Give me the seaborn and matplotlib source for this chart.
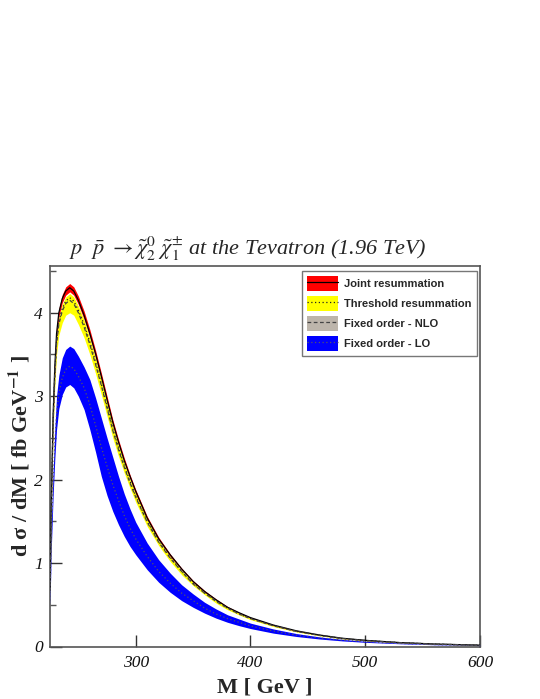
import numpy as np
import pandas as pd
import matplotlib
matplotlib.use("Agg")
import matplotlib.pyplot as plt
import seaborn as sns
from matplotlib.patches import Patch
from matplotlib.lines import Line2D
from matplotlib.legend_handler import HandlerTuple
from matplotlib.ticker import MultipleLocator, FixedLocator

# ---------------- data ----------------
mass = [225.3, 226.5, 228, 229.5, 231, 233, 236, 239, 242.5, 246, 250, 255, 260, 265, 270,
        275, 280, 285, 290, 295, 300, 310, 320, 330, 340, 350, 360, 370, 380, 390, 400,
        420, 440, 460, 480, 500, 530, 560, 600]

joint_up = [0.70, 1.80, 2.80, 3.40, 3.80, 4.05, 4.22, 4.31, 4.35, 4.31, 4.20, 4.02, 3.80, 3.55, 3.28,
            3.00, 2.72, 2.48, 2.26, 2.06, 1.88, 1.56, 1.31, 1.11, 0.94, 0.79, 0.67, 0.57, 0.48, 0.41, 0.35,
            0.26, 0.19, 0.14, 0.10, 0.075, 0.048, 0.030, 0.016]
joint_mid = [0.69, 1.78, 2.77, 3.36, 3.75, 4.00, 4.17, 4.26, 4.30, 4.26, 4.15, 3.97, 3.75, 3.51, 3.24,
             2.96, 2.69, 2.45, 2.23, 2.04, 1.86, 1.54, 1.29, 1.10, 0.93, 0.78, 0.66, 0.56, 0.47, 0.405, 0.346,
             0.257, 0.188, 0.138, 0.099, 0.074, 0.047, 0.030, 0.016]
joint_lo = [0.68, 1.76, 2.73, 3.32, 3.71, 3.95, 4.12, 4.21, 4.25, 4.21, 4.10, 3.92, 3.71, 3.46, 3.20,
            2.93, 2.65, 2.42, 2.21, 2.01, 1.83, 1.52, 1.28, 1.08, 0.92, 0.77, 0.65, 0.56, 0.47, 0.40, 0.342,
            0.254, 0.185, 0.137, 0.098, 0.073, 0.047, 0.029, 0.016]

thr_up = [0.68, 1.75, 2.72, 3.30, 3.69, 3.94, 4.10, 4.19, 4.23, 4.19, 4.08, 3.91, 3.69, 3.45, 3.19,
          2.92, 2.64, 2.41, 2.20, 2.00, 1.83, 1.52, 1.27, 1.08, 0.91, 0.77, 0.65, 0.55, 0.47, 0.40, 0.340,
          0.253, 0.185, 0.136, 0.097, 0.073, 0.047, 0.029, 0.016]
thr_mid = [0.67, 1.73, 2.69, 3.26, 3.65, 3.89, 4.05, 4.14, 4.18, 4.14, 4.03, 3.86, 3.65, 3.41, 3.15,
           2.88, 2.61, 2.38, 2.17, 1.98, 1.80, 1.50, 1.26, 1.07, 0.90, 0.76, 0.64, 0.55, 0.46, 0.39, 0.336,
           0.250, 0.182, 0.134, 0.096, 0.072, 0.046, 0.029, 0.015]
thr_lo = [0.64, 1.66, 2.58, 3.13, 3.50, 3.73, 3.88, 3.97, 4.00, 3.97, 3.86, 3.70, 3.50, 3.27, 3.02,
          2.76, 2.50, 2.28, 2.08, 1.90, 1.73, 1.44, 1.21, 1.02, 0.86, 0.73, 0.62, 0.52, 0.44, 0.38, 0.322,
          0.239, 0.175, 0.129, 0.092, 0.069, 0.044, 0.028, 0.015]

nlo_up = [0.68, 1.74, 2.71, 3.29, 3.68, 3.92, 4.08, 4.17, 4.21, 4.17, 4.07, 3.89, 3.68, 3.44, 3.18,
          2.90, 2.63, 2.40, 2.19, 1.99, 1.82, 1.51, 1.27, 1.07, 0.91, 0.76, 0.65, 0.55, 0.46, 0.40, 0.339,
          0.252, 0.184, 0.136, 0.097, 0.073, 0.046, 0.029, 0.015]
nlo_mid = [0.67, 1.72, 2.67, 3.24, 3.62, 3.86, 4.02, 4.11, 4.15, 4.11, 4.00, 3.83, 3.62, 3.38, 3.13,
           2.86, 2.59, 2.36, 2.15, 1.96, 1.79, 1.49, 1.25, 1.06, 0.90, 0.75, 0.64, 0.54, 0.46, 0.39, 0.334,
           0.248, 0.181, 0.133, 0.095, 0.071, 0.046, 0.029, 0.015]
nlo_lo = [0.66, 1.69, 2.63, 3.19, 3.57, 3.80, 3.96, 4.05, 4.08, 4.05, 3.94, 3.77, 3.57, 3.33, 3.08,
          2.82, 2.55, 2.33, 2.12, 1.93, 1.77, 1.46, 1.23, 1.04, 0.88, 0.74, 0.63, 0.54, 0.45, 0.38, 0.329,
          0.244, 0.178, 0.131, 0.094, 0.070, 0.045, 0.028, 0.015]

lo_up = [0.60, 1.50, 2.10, 2.60, 3.00, 3.25, 3.46, 3.56, 3.60, 3.57, 3.48, 3.35, 3.20, 2.98, 2.74,
         2.50, 2.27, 2.04, 1.83, 1.65, 1.49, 1.24, 1.04, 0.88, 0.74, 0.63, 0.53, 0.45, 0.38, 0.33, 0.28,
         0.21, 0.155, 0.115, 0.085, 0.063, 0.041, 0.026, 0.014]
lo_mid = [0.55, 1.35, 1.95, 2.42, 2.78, 3.03, 3.22, 3.32, 3.36, 3.33, 3.24, 3.10, 2.90, 2.65, 2.39,
          2.16, 1.94, 1.75, 1.57, 1.42, 1.29, 1.08, 0.90, 0.76, 0.64, 0.55, 0.46, 0.39, 0.335, 0.29, 0.247,
          0.185, 0.137, 0.102, 0.076, 0.056, 0.037, 0.023, 0.012]
lo_lo = [0.50, 1.20, 1.80, 2.25, 2.60, 2.85, 3.02, 3.11, 3.14, 3.10, 3.00, 2.84, 2.60, 2.33, 2.04,
         1.81, 1.62, 1.46, 1.32, 1.20, 1.10, 0.92, 0.77, 0.65, 0.55, 0.47, 0.40, 0.34, 0.29, 0.25, 0.215,
         0.16, 0.12, 0.09, 0.067, 0.050, 0.033, 0.021, 0.011]

series_names = ["Joint resummation", "Threshold resummation", "Fixed order - NLO", "Fixed order - LO"]
x_ticks = [300, 400, 500, 600]
y_ticks = [0, 1, 2, 3, 4]

# ---------------- style ----------------
sns.set_theme(style="white")
plt.rcParams["font.family"] = ["Liberation Serif", "DejaVu Serif"]
plt.rcParams["mathtext.fontset"] = "stix"

fig = plt.figure(figsize=(5.4, 6.99), dpi=100)
ax = fig.add_axes([50 / 540, 1 - 646.5 / 699, 430 / 540, 380.5 / 699])

df = pd.DataFrame({"M": mass, "joint": joint_mid, "thr": thr_mid, "nlo": nlo_mid, "lo": lo_mid})

band_colors = {"joint": "#ff0000", "thr": "#ffff00", "nlo": "#bdb5ab", "lo": "#0000ff"}

ax.fill_between(mass, nlo_lo, nlo_up, color=band_colors["nlo"], lw=0, zorder=1)
ax.fill_between(mass, thr_lo, thr_up, color=band_colors["thr"], lw=0, zorder=2)
ax.fill_between(mass, joint_lo, joint_up, color=band_colors["joint"], lw=0, zorder=3)
ax.fill_between(mass, lo_lo, lo_up, color=band_colors["lo"], lw=0, zorder=4)

sns.lineplot(data=df, x="M", y="joint", ax=ax, color="black", lw=0.9, zorder=6)
sns.lineplot(data=df, x="M", y="thr", ax=ax, color="#222222", lw=0.9, ls=(0, (1, 2)), zorder=6)
sns.lineplot(data=df, x="M", y="nlo", ax=ax, color="#444444", lw=0.9, ls=(0, (3, 2)), zorder=6)
sns.lineplot(data=df, x="M", y="lo", ax=ax, color="#555566", lw=0.9, ls=(0, (1, 2)), zorder=6)

ax.set_xlim(225.3, 600)
ax.set_ylim(0, 4.56)

ax.xaxis.set_major_locator(FixedLocator(x_ticks))
ax.yaxis.set_major_locator(FixedLocator(y_ticks))
ax.yaxis.set_minor_locator(MultipleLocator(0.5))
ax.tick_params(axis="both", which="major", direction="in", length=8.5, width=1.0,
               color="#333333", top=False, right=False, bottom=True, left=True)
ax.tick_params(axis="y", which="minor", direction="in", length=4, width=1.0,
               color="#555555", left=True, right=False)
ax.tick_params(axis="x", which="major", pad=6)
ax.tick_params(axis="y", which="major", pad=5)
for lab in ax.get_xticklabels() + ax.get_yticklabels():
    lab.set_fontstyle("italic")
    lab.set_fontsize(12.5)
    lab.set_color("#111111")

for sp in ax.spines.values():
    sp.set_color("#555555")
    sp.set_linewidth(1.2)
    sp.set_visible(True)

ax.set_xlabel("M [ GeV ]", fontsize=16, fontweight="bold", va="baseline")
ax.xaxis.set_label_coords(0.5, (646.5 - 692.5) / 380.5)
ax.set_ylabel(r"d σ / dM [ fb GeV$^{\mathbf{-1}}$ ]", fontsize=16, fontweight="bold", va="center")
ax.yaxis.set_label_coords((20 - 50) / 430, 0.5)

fig.text(248 / 540, 1 - 255 / 699,
         r"$p\ \ \bar{p}\ \rightarrow \tilde{\chi}^{0}_{2}\ \tilde{\chi}^{\pm}_{1}$ at the Tevatron (1.96 TeV)",
         fontsize=16, fontstyle="italic", ha="center", va="baseline")

handles = [
    (Patch(facecolor=band_colors["joint"], edgecolor="none"), Line2D([], [], color="black", lw=0.9)),
    (Patch(facecolor=band_colors["thr"], edgecolor="none"), Line2D([], [], color="#222222", lw=0.9, ls=(0, (1, 2)))),
    (Patch(facecolor=band_colors["nlo"], edgecolor="none"), Line2D([], [], color="#444444", lw=0.9, ls=(0, (3, 2)))),
    (Patch(facecolor=band_colors["lo"], edgecolor="none"), Line2D([], [], color="#555566", lw=0.9, ls=(0, (1, 2)))),
]
leg = ax.legend(handles, series_names, handler_map={tuple: HandlerTuple(ndivide=1)},
                loc="upper right", bbox_to_anchor=(0.993, 0.987), frameon=True, fancybox=False,
                prop={"family": "Liberation Sans", "weight": "bold", "size": 8},
                handlelength=2.8, handleheight=1.7, labelspacing=0.45, handletextpad=0.55,
                borderpad=0.45, borderaxespad=0)
leg.get_frame().set_edgecolor("#555555")
leg.get_frame().set_linewidth(1.0)
leg.set_zorder(10)

fig.savefig("out.png", dpi=100)
